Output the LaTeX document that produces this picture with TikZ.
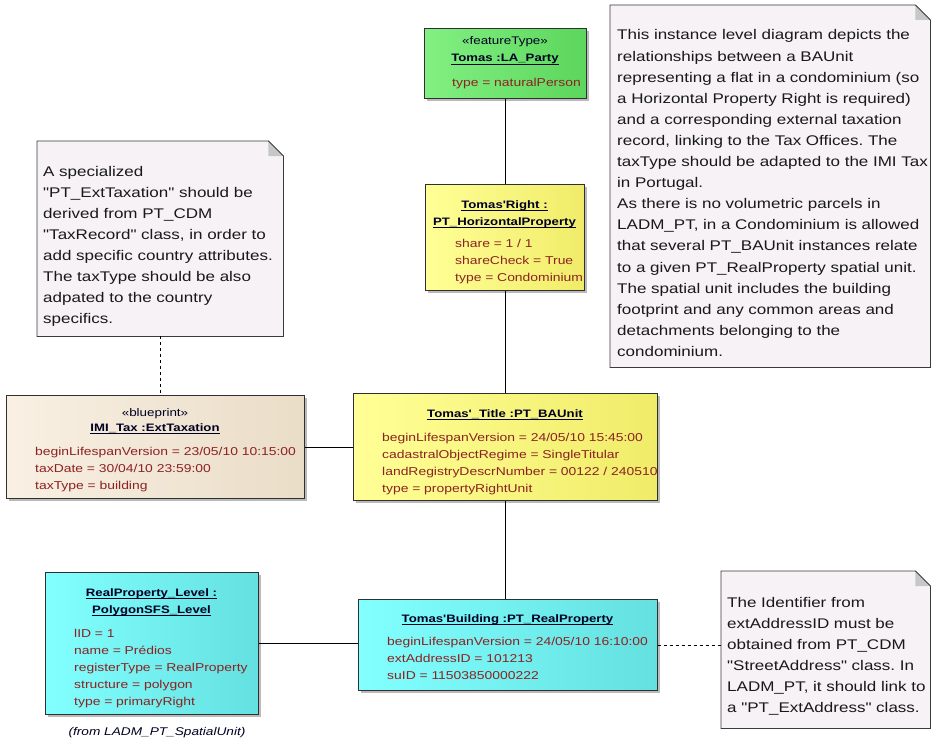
\documentclass[tikz,border=0pt]{standalone}
\usepackage{fontspec}
\setmainfont{Liberation Sans}
\newfontfamily\clsfont[FakeStretch=1.22,Ligatures=TeXOff]{Liberation Sans}
\newfontfamily\notefont[FakeStretch=1.215,Ligatures=TeXOff]{Liberation Sans}
\usetikzlibrary{shadows}
\frenchspacing
\definecolor{attrred}{HTML}{8C2222}
\definecolor{titleblk}{HTML}{000022}
\definecolor{notebg}{HTML}{F6F2F6}
\definecolor{noteline}{HTML}{3A3A3A}
\definecolor{boxline}{HTML}{303030}
\newcommand\ulnode[1]{\draw[line width=0.8pt,titleblk] ([yshift=-2.6pt]#1.base west) -- ([yshift=-2.6pt]#1.base east);}
\newcommand\notedraw[1]{%
  \draw[notebg fill] (#1.north west) -- ([xshift=-15pt]#1.north east) -- ([yshift=-15pt]#1.north east) -- (#1.south east) -- (#1.south west) -- cycle;
  \fill[black!22] ([xshift=-15pt]#1.north east) -- ([xshift=-15pt,yshift=-15pt]#1.north east) -- ([yshift=-15pt]#1.north east) -- cycle;
  \draw[noteline, line width=0.8pt] ([xshift=-15pt]#1.north east) -- ([yshift=-15pt]#1.north east);}
\begin{document}
\begin{tikzpicture}[x=1pt,y=-1pt,
  umlbox/.style={draw=boxline, line width=0.8pt, rectangle, inner sep=0pt, anchor=north west,
    drop shadow={shadow xshift=3pt, shadow yshift=-3pt, fill=black!60, opacity=0.45}},
  greenfill/.style={left color={rgb,255:red,130;green,240;blue,130}, right color={rgb,255:red,92;green,214;blue,92}},
  yellowfill/.style={left color={rgb,255:red,255;green,255;blue,150}, right color={rgb,255:red,240;green,236;blue,105}},
  beigefill/.style={left color={rgb,255:red,249;green,240;blue,227}, right color={rgb,255:red,234;green,221;blue,200}},
  cyanfill/.style={left color={rgb,255:red,130;green,255;blue,255}, right color={rgb,255:red,100;green,224;blue,224}},
  stereo/.style={font=\clsfont\fontsize{11}{17}\selectfont, text=titleblk, inner sep=0pt, anchor=base},
  clstitle/.style={font=\clsfont\bfseries\fontsize{10.8}{17}\selectfont, text=titleblk, inner sep=0pt, anchor=base},
  attrs/.style={font=\clsfont\fontsize{11.4}{17}\selectfont, text=attrred, inner sep=0pt, anchor=base west, align=left, text width=290pt},
  notebase/.style={rectangle, inner sep=0pt, anchor=north west},
  notebg fill/.style={fill=notebg, draw=noteline, line width=0.8pt},
  notetext/.style={font=\notefont\fontsize{14}{21.1}\selectfont, text=black!90, inner sep=0pt, anchor=base west, align=left, text width=330pt},
  conn/.style={draw=black, line width=0.8pt},
  dconn/.style={draw=black, line width=0.8pt, dash pattern=on 3pt off 3pt}
]
\fill[white] (0,0) rectangle (931,741);
\useasboundingbox (0,0) rectangle (931,741);

% ---------- notes ----------
\node[notebase, minimum width=320pt, minimum height=362pt] (n1) at (610,5) {};
\notedraw{n1}
\node[notetext] (n1t) at (617,40) {This instance level diagram depicts the\\
relationships between a BAUnit\\
representing a flat in a condominium (so\\
a Horizontal Property Right is required)\\
and a corresponding external taxation\\
record, linking to the Tax Offices. The\\
taxType should be adapted to the IMI Tax\\
in Portugal.\\
As there is no volumetric parcels in\\
LADM\_PT, in a Condominium is allowed\\
that several PT\_BAUnit instances relate\\
to a given PT\_RealProperty spatial unit.\\
The spatial unit includes the building\\
footprint and any common areas and\\
detachments belonging to the\\
condominium.};

\node[notebase, minimum width=246pt, minimum height=195pt] (n2) at (37,141) {};
\notedraw{n2}
\node[notetext] (n2t) at (43,176) {A specialized\\
"PT\_ExtTaxation" should be\\
derived from PT\_CDM\\
"TaxRecord" class, in order to\\
add specific country attributes.\\
The taxType should be also\\
adpated to the country\\
specifics.};

\node[notebase, minimum width=209pt, minimum height=157pt] (n3) at (721,571) {};
\notedraw{n3}
\node[notetext] (n3t) at (727,607) {The Identifier from\\
extAddressID must be\\
obtained from PT\_CDM\\
"StreetAddress" class. In\\
LADM\_PT, it should link to\\
a "PT\_ExtAddress" class.};

% ---------- class boxes ----------
\node[umlbox, greenfill, minimum width=162pt, minimum height=70pt] (party) at (424,28) {};
\node[stereo] (partyS) at (505,44.5) {«featureType»};
\node[clstitle] (partyT) at (505,62) {Tomas :LA\_Party};
\ulnode{partyT}
\node[attrs] (partyA) at (452,87) {type = naturalPerson};

\node[umlbox, yellowfill, minimum width=159pt, minimum height=106pt] (hp) at (425,184) {};
\node[clstitle] (hpT1) at (504.5,208) {Tomas'Right :};
\node[clstitle] (hpT2) at (504.5,225) {PT\_HorizontalProperty};
\ulnode{hpT1}
\ulnode{hpT2}
\node[attrs] (hpA) at (455,247) {share = 1 / 1\\shareCheck = True\\type = Condominium};

\node[umlbox, beigefill, minimum width=298pt, minimum height=103pt] (ext) at (6,395) {};
\node[stereo] (extS) at (155,416) {«blueprint»};
\node[clstitle] (extT) at (155,431) {IMI\_Tax :ExtTaxation};
\ulnode{extT}
\node[attrs] (extA) at (35,455) {beginLifespanVersion = 23/05/10 10:15:00\\taxDate = 30/04/10 23:59:00\\taxType = building};

\node[umlbox, yellowfill, minimum width=304pt, minimum height=107pt] (ba) at (353,393) {};
\node[clstitle] (baT) at (505,417) {Tomas'\_Title :PT\_BAUnit};
\ulnode{baT}
\node[attrs] (baA) at (382,441) {beginLifespanVersion = 24/05/10 15:45:00\\cadastralObjectRegime = SingleTitular\\landRegistryDescrNumber = 00122 / 240510\\type = propertyRightUnit};

\node[umlbox, cyanfill, minimum width=213pt, minimum height=142pt] (lvl) at (45,572) {};
\node[clstitle] (lvlT1) at (151.5,596) {RealProperty\_Level :};
\node[clstitle] (lvlT2) at (151.5,613) {PolygonSFS\_Level};
\ulnode{lvlT1}
\ulnode{lvlT2}
\node[attrs] (lvlA) at (74,637) {lID = 1\\name = Prédios\\registerType = RealProperty\\structure = polygon\\type = primaryRight};
\node[font=\clsfont\itshape\fontsize{11.2}{14}\selectfont, text=titleblk, inner sep=0pt, anchor=base] (lvlFrom) at (157,735) {(from LADM\_PT\_SpatialUnit)};

\node[umlbox, cyanfill, minimum width=299pt, minimum height=91pt] (rp) at (358,599) {};
\node[clstitle] (rpT) at (507.5,622) {Tomas'Building :PT\_RealProperty};
\ulnode{rpT}
\node[attrs] (rpA) at (387,645) {beginLifespanVersion = 24/05/10 16:10:00\\extAddressID = 101213\\suID = 11503850000222};

% ---------- connectors ----------
\draw[conn] (party.south) -- (party.south |- hp.north);
\draw[conn] (hp.south) -- (hp.south |- ba.north);
\draw[conn] (ext.east) -- (ext.east -| ba.west);
\draw[conn] (ba.south) -- (ba.south |- rp.north);
\draw[conn] (lvl.east) -- (lvl.east -| rp.west);
\draw[dconn] (rp.east) -- (rp.east -| n3.west);
\draw[dconn] (n2.south) -- (n2.south |- ext.north);
\end{tikzpicture}
\end{document}
